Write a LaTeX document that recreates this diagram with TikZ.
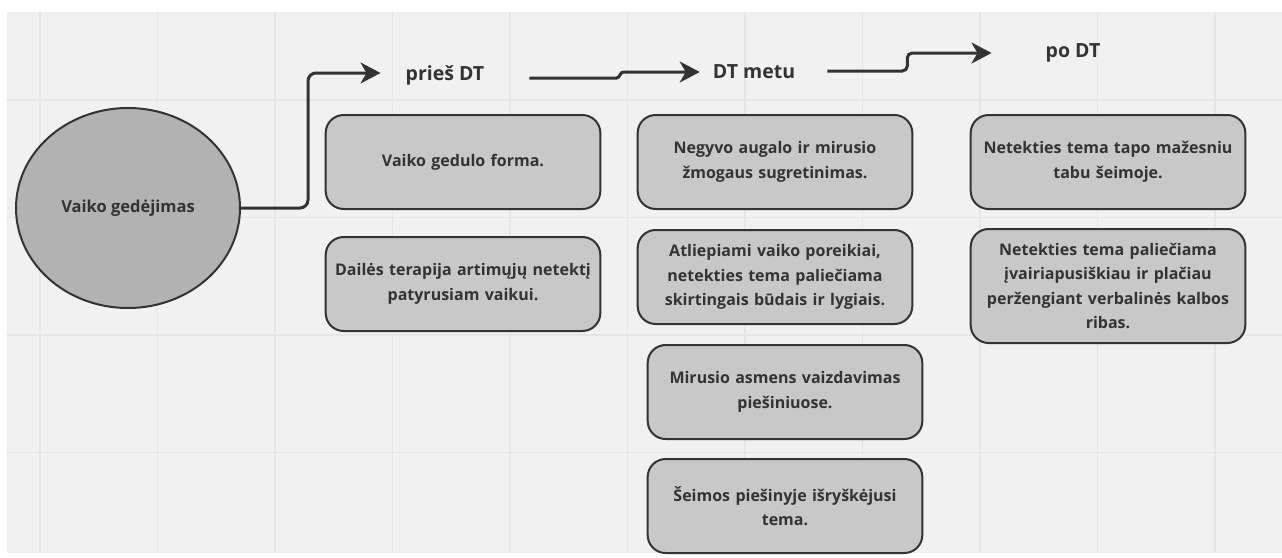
\documentclass[tikz,border=0pt]{standalone}
\usepackage{fontspec}
\setmainfont{Open Sans}
\usetikzlibrary{arrows.meta, positioning, shapes.geometric}
\definecolor{drobe}{HTML}{F1F1F1}
\definecolor{tinklas}{HTML}{E6E6E6}
\definecolor{kfill}{HTML}{C8C8C8}
\definecolor{ofill}{HTML}{B2B2B2}
\definecolor{tusas}{HTML}{333333}
\tikzset{
    %Define standard arrow tip
    >={Stealth[length=20pt,width=21pt,inset=6pt]},
    %Define style for boxes
    kortele/.style={
           rectangle,
           rounded corners=18pt,
           draw=tusas, line width=2pt,
           fill=kfill,
           text=tusas,
           minimum width=273pt,
           minimum height=94pt,
           text width=268pt,
           align=center,
           font=\bfseries\fontsize{16}{24.5}\selectfont},
    % Define style for stage titles
    etapas/.style={
           text=tusas,
           inner sep=0pt,
           font=\bfseries\fontsize{19.5}{22}\selectfont},
    % Define arrow style
    rodykle/.style={
           ->,
           draw=tusas,
           line width=3pt,
           rounded corners=8pt}
}

\begin{document}
\begin{tikzpicture}[x=1pt, y=-1pt]
	\useasboundingbox (0,0) rectangle (1282,557);
	%
	% fonas
	%
	\fill[drobe] (7,12) rectangle (1282,553);
	\foreach \i in {0,...,10}
		\draw[tinklas, line width=1.2pt] ({40+117.5*\i},12) -- ++(0,541);
	\foreach \j in {0,...,3}
		\draw[tinklas, line width=1.2pt] (7,{100+117.5*\j}) -- (1282,{100+117.5*\j});
	%
	% mazgai
	%
	\node[ellipse, draw=tusas, line width=2pt, fill=ofill, text=tusas, inner sep=0pt,
		minimum width=224pt, minimum height=200pt,
		font=\bfseries\fontsize{16.5}{20}\selectfont] (ovalas) at (128,208) {Vaiko gedėjimas};
	\node[etapas] (pries) at (445,75) {prieš DT};
	\node[etapas] (metu) at (754,72) {DT metu};
	\node[etapas] (podt) at (1073,53) {po DT};
	%
	\node[kortele] (forma) at (463,162) {Vaiko gedulo forma.};
	\node[kortele] (terapija) at (463,284) {Dailės terapija artimųjų netektį\\ patyrusiam vaikui.};
	%
	\node[kortele] (augalas) at (775,162) {Negyvo augalo ir mirusio\\ žmogaus sugretinimas.};
	\node[kortele] (poreikiai) at (775,277) {Atliepiami vaiko poreikiai,\\ netekties tema paliečiama\\ skirtingais būdais ir lygiais.};
	\node[kortele] (vaizdavimas) at (785,392) {Mirusio asmens vaizdavimas\\ piešiniuose.};
	\node[kortele] (seima) at (785,506) {Šeimos piešinyje išryškėjusi\\ tema.};
	%
	\node[kortele] (tabu) at (1108,162) {Netekties tema tapo mažesniu\\ tabu šeimoje.};
	\node[kortele, minimum height=114pt] (ribos) at (1108,286) {Netekties tema paliečiama\\ įvairiapusiškiau ir plačiau\\ peržengiant verbalinės kalbos\\ ribas.};
	%
	% Liens
	%
	\draw[rodykle] (ovalas.east) -- ++(67,0) |- ([xshift=-25pt,yshift=2pt]pries.west);
	\draw[rodykle, rounded corners=0pt] ([xshift=45pt,yshift=-3pt]pries.east) -- ++(87,0)
		to[out=0,in=180] ++(7,-6) -- ([xshift=-13pt]metu.west);
	\draw[rodykle, rounded corners=5pt] ([xshift=32pt,yshift=1pt]metu.east) -- ++(80,0)
		-- ++(0,-18) -- ([xshift=-54pt]podt.west);
\end{tikzpicture}
\end{document}
